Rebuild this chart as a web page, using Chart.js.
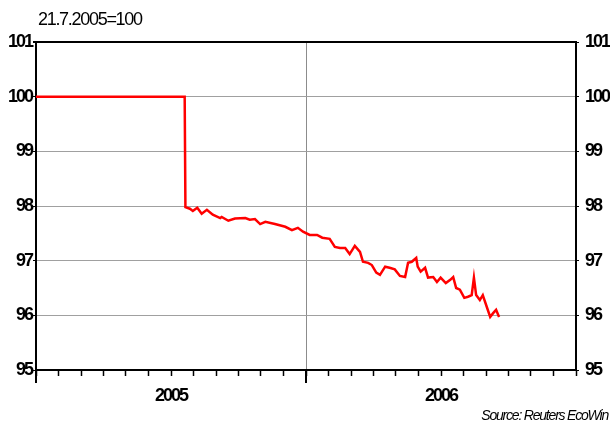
<!DOCTYPE html>
<html>
<head>
<meta charset="utf-8">
<script src="https://cdn.jsdelivr.net/npm/chart.js@4.4.1/dist/chart.umd.min.js"></script>
<style>
  html, body { margin: 0; padding: 0; background: #fff; }
  #wrap { width: 610px; height: 429px; position: relative; }
</style>
</head>
<body>
<div id="wrap"><canvas id="myChart"></canvas></div>
<script>
// index, 21.7.2005 = 100
var dates = [
    "2005-01-01", "2005-07-21", "2005-07-22", "2005-07-28", "2005-08-01", "2005-08-07", "2005-08-13",
    "2005-08-20", "2005-08-28", "2005-09-07", "2005-09-09", "2005-09-18", "2005-09-27", "2005-10-11",
    "2005-10-17", "2005-10-24", "2005-10-31", "2005-11-07", "2005-11-20", "2005-12-04", "2005-12-13",
    "2005-12-21", "2005-12-28", "2006-01-06", "2006-01-16", "2006-01-23", "2006-02-02", "2006-02-09",
    "2006-02-16", "2006-02-23", "2006-03-01", "2006-03-08", "2006-03-15", "2006-03-19", "2006-03-26",
    "2006-03-31", "2006-04-06", "2006-04-11", "2006-04-18", "2006-04-24", "2006-05-01", "2006-05-08",
    "2006-05-15", "2006-05-19", "2006-05-24", "2006-05-30", "2006-06-01", "2006-06-05", "2006-06-11",
    "2006-06-15", "2006-06-22", "2006-06-27", "2006-07-02", "2006-07-09", "2006-07-15", "2006-07-19",
    "2006-07-23", "2006-07-28", "2006-08-03", "2006-08-08", "2006-08-13", "2006-08-16", "2006-08-19",
    "2006-08-24", "2006-08-28", "2006-09-03", "2006-09-07", "2006-09-11", "2006-09-15", "2006-09-19"
];
var values = [
    100.00, 100.00, 97.98, 97.95, 97.91, 97.97, 97.86,
    97.93, 97.84, 97.78, 97.80, 97.73, 97.77, 97.78,
    97.75, 97.76, 97.67, 97.71, 97.67, 97.62, 97.56,
    97.60, 97.53, 97.47, 97.47, 97.42, 97.40, 97.25,
    97.23, 97.23, 97.12, 97.27, 97.16, 96.98, 96.96,
    96.92, 96.78, 96.74, 96.89, 96.87, 96.84, 96.72,
    96.70, 96.96, 96.98, 97.05, 96.89, 96.80, 96.87,
    96.69, 96.70, 96.61, 96.69, 96.59, 96.65, 96.70,
    96.50, 96.47, 96.32, 96.34, 96.37, 96.69, 96.37,
    96.28, 96.37, 96.13, 95.97, 96.04, 96.10, 95.97
];
var yearLabels = ["2005", "2006"];
var titleText = "21.7.2005=100";
var sourceText = "Source: Reuters EcoWin";

var FONT = "'Liberation Sans', Arial, sans-serif";

function toYear(s) {
    var d = new Date(s + "T00:00:00Z");
    var y = d.getUTCFullYear();
    var start = Date.UTC(y, 0, 1);
    return y + (d.getTime() - start) / 86400000 / 365;
}

var points = dates.map(function(d, i) { return { x: toYear(d), y: values[i] }; });

var extras = {
    id: "extras",
    beforeDraw: function(chart) {
        // squeeze the labels a bit, the original uses a narrow face
        chart.ctx.letterSpacing = "-2px";
    },
    afterDraw: function(chart) {
        var ctx = chart.ctx;
        var xs = chart.scales.x;
        var area = chart.chartArea;
        ctx.save();
        // longer year ticks
        ctx.strokeStyle = "#000";
        ctx.lineWidth = 2;
        [2005, 2006].forEach(function(y) {
            var px = Math.round(xs.getPixelForValue(y));
            ctx.beginPath();
            ctx.moveTo(px, area.bottom);
            ctx.lineTo(px, area.bottom + 13);
            ctx.stroke();
        });
        ctx.fillStyle = "#000";
        ctx.letterSpacing = "-1.3px";
        ctx.font = "18px " + FONT;
        ctx.textBaseline = "alphabetic";
        ctx.textAlign = "left";
        ctx.fillText(titleText, 38, 25);
        ctx.font = "italic 14px " + FONT;
        ctx.letterSpacing = "-1.2px";
        ctx.textAlign = "right";
        ctx.fillText(sourceText, 608, 420);
        ctx.restore();
    }
};

var ctx = document.getElementById("myChart").getContext("2d");
var myChart = new Chart(ctx, {
    type: "line",
    data: {
        datasets: [{
            data: points,
            borderColor: "#ff0000",
            borderWidth: 2.5,
            pointRadius: 0,
            tension: 0,
            fill: false
        }]
    },
    options: {
        responsive: true,
        maintainAspectRatio: false,
        animation: false,
        layout: { padding: { top: 42, left: 0, right: 0, bottom: 0 } },
        plugins: {
            legend: { display: false },
            tooltip: { enabled: false }
        },
        scales: {
            x: {
                type: "linear",
                min: 2005,
                max: 2007,
                afterBuildTicks: function(s) {
                    var t = [];
                    for (var m = 0; m <= 24; m++) t.push({ value: 2005 + m / 12 });
                    s.ticks = t;
                },
                afterFit: function(s) { s.height = 59; },
                ticks: {
                    autoSkip: false,
                    maxRotation: 0,
                    padding: 9,
                    color: "#000",
                    font: { family: FONT, size: 18, weight: "bold" },
                    callback: function(v, i) {
                        if (i === 6) return yearLabels[0];
                        if (i === 18) return yearLabels[1];
                        return "";
                    }
                },
                grid: {
                    color: function(c) { return c.tick && Math.abs(c.tick.value - 2006) < 1e-6 ? "#8c8c8c" : "rgba(0,0,0,0)"; },
                    tickColor: "#000",
                    tickWidth: 1.5,
                    tickLength: 6
                },
                border: { color: "#000", width: 2 }
            },
            y: {
                position: "left",
                min: 95,
                max: 101,
                afterFit: function(s) { s.width = 36; },
                ticks: {
                    stepSize: 1,
                    padding: 1,
                    color: "#000",
                    font: { family: FONT, size: 18, weight: "bold" }
                },
                grid: {
                    color: function(c) { return c.tick && c.tick.value === 101 ? "#000" : "#a0a0a0"; },
                    lineWidth: function(c) { return c.tick && c.tick.value === 101 ? 2 : 1; },
                    tickColor: "#000",
                    tickLength: 3
                },
                border: { color: "#000", width: 2 }
            },
            y2: {
                position: "right",
                min: 95,
                max: 101,
                afterFit: function(s) { s.width = 34; },
                ticks: {
                    stepSize: 1,
                    padding: 6,
                    color: "#000",
                    font: { family: FONT, size: 18, weight: "bold" }
                },
                grid: {
                    drawOnChartArea: false,
                    tickColor: "#000",
                    tickLength: 3
                },
                border: { color: "#000", width: 2 }
            }
        }
    },
    plugins: [extras]
});
</script>
</body>
</html>
